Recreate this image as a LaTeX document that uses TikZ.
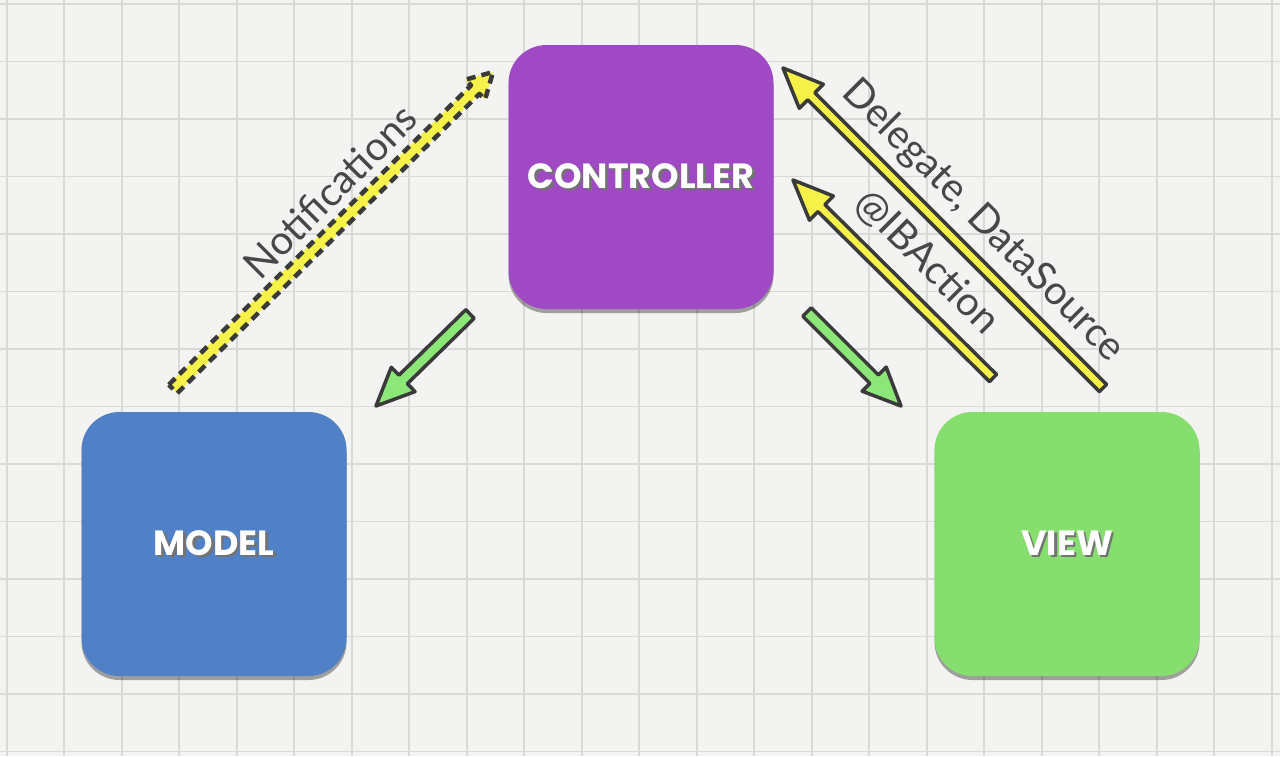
\documentclass[tikz,border=0pt]{standalone}
\usepackage{fontspec}
\setmainfont{Lato}
\newfontfamily\boxfont{Poppins}
\usetikzlibrary{calc,shadows}
\definecolor{paper}{HTML}{F3F3F1}
\definecolor{gridc}{HTML}{D9D9D7}
\definecolor{ctrlc}{HTML}{A049C5}
\definecolor{modelc}{HTML}{5080C6}
\definecolor{viewc}{HTML}{85DE6E}
\definecolor{arrowy}{HTML}{F7F24A}
\definecolor{arrowg}{HTML}{8CE678}
\definecolor{outl}{HTML}{3A3A3A}
\definecolor{labelc}{HTML}{474747}
\newcommand\shadowtext[1]{\rlap{\kern2.5pt\raisebox{-2.5pt}{\textcolor{black!55}{#1}}}#1}
% fat arrow: #1 tail, #2 tip, #3 shaft half width, #4 head half width, #5 head length, #6 style
\newcommand\fatarrow[6]{%
  \coordinate (#1-base) at ($(#2)!#5!(#1)$);
  \draw[#6] ($(#1)!#3!90:(#2)$) -- ($(#1-base)!#3!-90:(#1)$) -- ($(#1-base)!#4!-90:(#1)$)
    -- (#2) -- ($(#1-base)!#4!90:(#1)$) -- ($(#1-base)!#3!90:(#1)$) -- ($(#1)!#3!-90:(#2)$) -- cycle;
}
\tikzset{
  mvcbox/.style={rounded corners=38pt, minimum width=265pt, minimum height=264pt,
    text=white, font=\boxfont\bfseries\fontsize{35}{37}\selectfont,
    drop shadow={shadow xshift=0pt, shadow yshift=-4pt, opacity=0.35, fill=black}},
  solidarrow/.style={draw=outl, line width=3.5pt, line join=round},
  dasharrow/.style={draw=outl, line width=4.5pt, dash pattern=on 9pt off 6pt, fill=arrowy, line join=round},
  lbl/.style={text=labelc, font=\fontsize{40}{44}\selectfont, inner sep=0pt}
}
\begin{document}
\begin{tikzpicture}[x=1pt,y=-1pt]
\useasboundingbox (0,0) rectangle (1280,756);
\fill[paper] (0,0) rectangle (1280,756);
\foreach \i in {0,...,22} \draw[gridc, line width=1.8pt] (6.7+57.5*\i,0) -- ++(0,756);
\foreach \j in {0,...,13} \draw[gridc, line width=1.8pt] (0,4+57.5*\j) -- ++(1280,0);

\node[mvcbox, fill=ctrlc] (ctrl) at (641,177) {\shadowtext{CONTROLLER}};
\node[mvcbox, fill=modelc] (model) at (214,544) {\shadowtext{MODEL}};
\node[mvcbox, fill=viewc] (view) at (1067,544) {\shadowtext{VIEW}};

% coordinates of connector ends
\coordinate (nT) at (173,389);
\coordinate (nP) at (493,72);
\coordinate (dT) at (1103,388);
\coordinate (dP) at (783,68);
\coordinate (iT) at (993,378);
\coordinate (iP) at (793,180);
\coordinate (gLT) at (470,314);
\coordinate (gLP) at (376,406);
\coordinate (gRT) at (807,312);
\coordinate (gRP) at (901,406);

\fatarrow{nT}{nP}{6pt}{14pt}{25pt}{dasharrow}
\fatarrow{dT}{dP}{5pt}{17pt}{40pt}{solidarrow, fill=arrowy}
\fatarrow{iT}{iP}{5pt}{17pt}{40pt}{solidarrow, fill=arrowy}
\fatarrow{gLT}{gLP}{6pt}{17pt}{38pt}{solidarrow, fill=arrowg}
\fatarrow{gRT}{gRP}{6pt}{17pt}{38pt}{solidarrow, fill=arrowg}

\node[lbl, rotate=45] (nlab) at (330,191) {Notifications};
\node[lbl, rotate=-45] (dlab) at (983,221) {Delegate, DataSource};
\node[lbl, rotate=-45] (ilab) at (927,262) {@IBAction};
\end{tikzpicture}
\end{document}
